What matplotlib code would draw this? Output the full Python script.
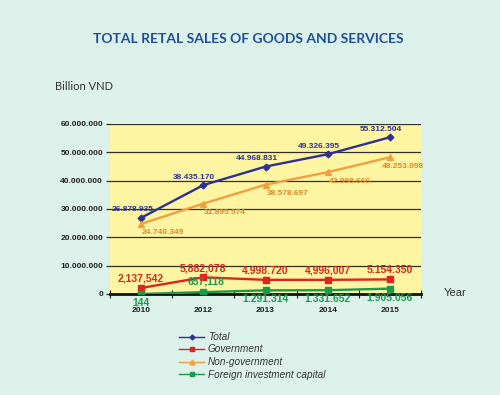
import matplotlib
matplotlib.use("Agg")
import matplotlib.pyplot as plt
from matplotlib.lines import Line2D

years = ["2010", "2012", "2013", "2014", "2015"]
total = [26878935, 38435170, 44968831, 49326395, 55312504]
government = [2137542, 5882078, 4998720, 4996007, 5154350]
non_government = [24740349, 31895974, 38578697, 42998666, 48253098]
foreign = [144, 657118, 1291314, 1331652, 1905056]

# thousands separators as printed in the source picture
sep_total = [".", ".", ".", ".", "."]
sep_gov = [",", ",", ".", ",", "."]
sep_nongov = [".", ".", ".", ".", "."]
sep_foreign = [",", ",", ".", ".", "."]

y_ticks = [0, 10000000, 20000000, 30000000, 40000000, 50000000, 60000000]

series_names = ["Total", "Government", "Non-government", "Foreign investment capital"]


def fmt(v, sep):
    return f"{v:,}".replace(",", sep)


BG = "#dcf1ea"
PLOT_BG = "#fdf5a2"
C_TOTAL = "#2e3192"
C_GOV = "#e0231d"
C_NON = "#f0a040"
C_FOR = "#1a9a4c"

fig = plt.figure(figsize=(5.0, 3.95), dpi=100, facecolor=BG)
ax = fig.add_axes([110 / 500, 1 - 294 / 395, 311 / 500, 170 / 395])
ax.set_facecolor(PLOT_BG)

x = list(range(len(years)))
ax.plot(x, total, color=C_TOTAL, lw=1.7, marker="D", ms=3.4, zorder=4)
ax.plot(x, non_government, color=C_NON, lw=1.7, marker="^", ms=4.2, zorder=4)
ax.plot(x, government, color=C_GOV, lw=1.7, marker="s", ms=4.8, zorder=4)
ax.plot(x, foreign, color=C_FOR, lw=1.7, marker="s", ms=4.8, zorder=4)

ax.set_xlim(-0.5, len(years) - 0.5)
ax.set_ylim(0, 60000000)

# grid
for t in y_ticks[1:]:
    ax.axhline(t, color="#2f2f28", lw=0.9, zorder=1)

ax.set_yticks(y_ticks)
ax.set_yticklabels([fmt(t, ".") for t in y_ticks], fontsize=6, fontweight="bold",
                   color="#222222", family="Liberation Sans")
ax.tick_params(axis="y", length=3, width=0.9, color="#2f2f28", pad=2)

ax.set_xticks([i - 0.5 for i in range(len(years) + 1)])
ax.set_xticklabels([])
ax.set_xticks(x, minor=True)
ax.set_xticklabels(years, minor=True, fontsize=6, fontweight="bold",
                   color="#222222", family="Liberation Sans")
ax.tick_params(axis="x", which="major", direction="inout", length=6, width=0.8,
               color="#222222")
ax.tick_params(axis="x", which="minor", length=0, pad=9)

for s in ["top", "right", "left"]:
    ax.spines[s].set_visible(False)
ax.spines["bottom"].set_linewidth(2.0)
ax.spines["bottom"].set_color("#111111")
ax.spines["bottom"].set_zorder(3)

px = 0.72  # points per pixel


def label(xi, yi, text, dx, dy, color, size):
    ax.annotate(text, (xi, yi), xytext=(dx * px, dy * px), textcoords="offset points",
                ha="center", va="center", fontsize=size, fontweight="bold",
                color=color, family="Liberation Sans", zorder=6, annotation_clip=False)


for i in x:
    label(i, total[i], fmt(total[i], sep_total[i]), -9, 8, C_TOTAL, 6)
    label(i, non_government[i], fmt(non_government[i], sep_nongov[i]),
          22 if i < 4 else 13, -9, "#dc8a2c", 6)
    label(i, government[i], fmt(government[i], sep_gov[i]), 0, 9, "#d42a20", 7.5)
    if i == 1:
        label(i, foreign[i], fmt(foreign[i], sep_foreign[i]), 3, 11, C_FOR, 7.5)
    else:
        label(i, foreign[i], fmt(foreign[i], sep_foreign[i]), 0, -9, C_FOR, 7.5)

fig.text(248 / 500, 1 - 39 / 395, "TOTAL RETAL SALES OF GOODS AND SERVICES",
         ha="center", va="center", fontsize=10, fontweight="bold",
         color="#1f4f96", family="Lato")
fig.text(55 / 500, 1 - 86 / 395, "Billion VND", ha="left", va="center",
         fontsize=8, color="#333333", family="Lato")
fig.text(444 / 500, 1 - 293 / 395, "Year", ha="left", va="center",
         fontsize=8, color="#333333", family="Liberation Sans")

handles = [
    Line2D([], [], color=C_TOTAL, lw=1, marker="D", ms=2.5),
    Line2D([], [], color=C_GOV, lw=1, marker="s", ms=3.5),
    Line2D([], [], color=C_NON, lw=1, marker="^", ms=3.5),
    Line2D([], [], color=C_FOR, lw=1, marker="s", ms=3.5),
]
leg = fig.legend(handles, series_names, loc="upper left",
                 bbox_to_anchor=(179 / 500, 1 - 332 / 395), frameon=False,
                 prop={"family": "Liberation Sans", "style": "italic", "size": 7.2},
                 handlelength=2.5, handletextpad=0.4, labelspacing=0.25,
                 borderpad=0, borderaxespad=0)
for t in leg.get_texts():
    t.set_color("#333333")

fig.savefig("out.png", dpi=100, facecolor=BG)
